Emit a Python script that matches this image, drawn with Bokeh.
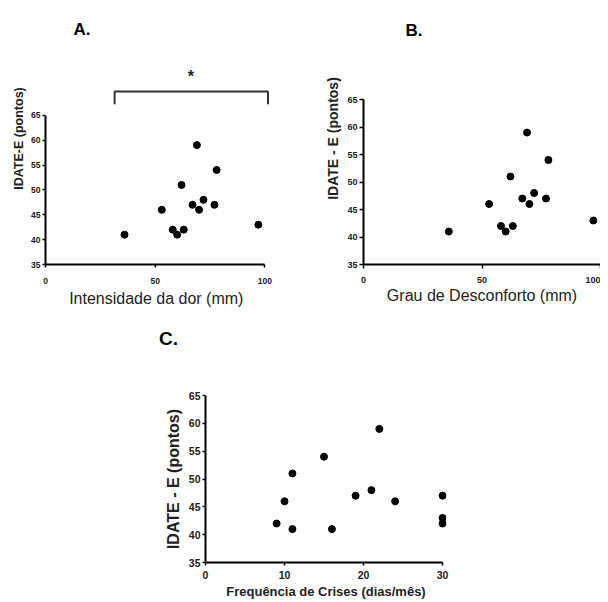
from bokeh.plotting import figure
from bokeh.models import FixedTicker, Label, Spacer, Range1d
from bokeh.layouts import column, row
from bokeh.embed import file_html
from bokeh.resources import INLINE

# ---- data ----
intensidade_dor = [36, 53, 58, 60, 63, 62, 67, 69, 70, 72, 77, 78, 97]
idate_a = [41, 46, 42, 41, 42, 51, 47, 59, 46, 48, 47, 54, 43]

grau_desconforto = [36, 53, 58, 60, 63, 62, 67, 69, 70, 72, 77, 78, 97]
idate_b = [41, 46, 42, 41, 42, 51, 47, 59, 46, 48, 47, 54, 43]

freq_crises = [9, 10, 11, 11, 15, 16, 19, 21, 22, 24, 30, 30, 30]
idate_c = [42, 46, 41, 51, 54, 41, 47, 48, 59, 46, 47, 43, 42]

y_ticks = [35, 40, 45, 50, 55, 60, 65]
x_ticks_ab = [0, 50, 100]
x_ticks_c = [0, 10, 20, 30]

FONT = "Liberation Sans"


def style(p, xticks, xbounds, tick_size, xlabel, xlabel_size, xlabel_style,
          ylabel, ylabel_size, tick_out, lab_stand, axlab_stand_x, axlab_stand_y):
    p.outline_line_color = None
    p.xgrid.grid_line_color = None
    p.ygrid.grid_line_color = None
    p.background_fill_color = "white"
    p.border_fill_color = "white"
    p.xaxis.ticker = FixedTicker(ticks=xticks)
    p.yaxis.ticker = FixedTicker(ticks=y_ticks)
    p.xaxis.bounds = xbounds
    p.yaxis.bounds = (35, 65)
    for ax in (p.xaxis, p.yaxis):
        ax.axis_line_color = "black"
        ax.axis_line_width = 2
        ax.major_tick_line_color = "black"
        ax.major_tick_line_width = 1.5
        ax.major_tick_out = tick_out
        ax.major_tick_in = 0
        ax.minor_tick_line_color = None
        ax.major_label_text_font = FONT
        ax.major_label_text_font_style = "bold"
        ax.major_label_text_font_size = tick_size
        ax.major_label_text_color = "#222222"
        ax.axis_label_text_font = FONT
        ax.axis_label_text_color = "#222222"
    p.xaxis.major_label_standoff = lab_stand
    p.yaxis.major_label_standoff = 2
    p.xaxis.axis_label = xlabel
    p.xaxis.axis_label_text_font_size = xlabel_size
    p.xaxis.axis_label_text_font_style = xlabel_style
    p.xaxis.axis_label_standoff = axlab_stand_x
    p.yaxis.axis_label = ylabel
    p.yaxis.axis_label_text_font_size = ylabel_size
    p.yaxis.axis_label_text_font_style = "bold"
    p.yaxis.axis_label_standoff = axlab_stand_y


# ---- Panel A ----
pA = figure(width=308, height=328, x_range=Range1d(0, 103), y_range=Range1d(35, 85.66),
            output_backend="svg", toolbar_location=None,
            min_border_left=45, min_border_right=37, min_border_top=12, min_border_bottom=61)
style(pA, x_ticks_ab, (0, 100), "8.5px", "Intensidade da dor  (mm)", "16px", "normal",
      "IDATE-E (pontos)", "12.5px", 3, 10, 3, 2)
pA.scatter(intensidade_dor, idate_a, size=7, color="black")
pA.line([31.5, 31.5, 101.4, 101.4], [67.2, 69.8, 69.8, 67.2], line_color="#333333", line_width=2)
pA.add_layout(Label(x=66.2, y=72.7, text="*", text_font=FONT, text_font_size="16px",
                    text_font_style="bold", text_align="center", text_baseline="alphabetic",
                    text_color="#222222"))
pA.add_layout(Label(x=12.8, y=82.3, text="A.", text_font=FONT, text_font_size="17px",
                    text_font_style="bold", text_align="left", text_baseline="middle",
                    text_color="black"))

# ---- Panel B ----
pB = figure(width=292, height=328, x_range=Range1d(0, 100), y_range=Range1d(35, 80.82),
            output_backend="svg", toolbar_location=None,
            min_border_left=55, min_border_right=0, min_border_top=12, min_border_bottom=64)
style(pB, x_ticks_ab, (0, 100), "9px", "Grau de Desconforto (mm)", "16px", "normal",
      "IDATE - E (pontos)", "14px", 4, 8, 1, 3)
pB.scatter(grau_desconforto, idate_b, size=7, color="black")
pB.add_layout(Label(x=17.7, y=77.5, text="B.", text_font=FONT, text_font_size="17px",
                    text_font_style="bold", text_align="left", text_baseline="middle",
                    text_color="black"))

# ---- strip holding the "C." panel letter ----
strip = figure(width=600, height=30, x_range=Range1d(0, 600), y_range=Range1d(0, 30),
               output_backend="svg", toolbar_location=None, x_axis_type=None, y_axis_type=None,
               min_border=0)
strip.outline_line_color = None
strip.xgrid.grid_line_color = None
strip.ygrid.grid_line_color = None
strip.add_layout(Label(x=168, y=20, text="C.", text_font=FONT, text_font_size="19px",
                       text_font_style="bold", text_align="center", text_baseline="middle",
                       text_color="black"))

# ---- Panel C ----
pC = figure(width=400, height=244, x_range=Range1d(0, 30.5), y_range=Range1d(35, 65),
            output_backend="svg", toolbar_location=None,
            min_border_left=97, min_border_right=62, min_border_top=37, min_border_bottom=40)
style(pC, x_ticks_c, (0, 30), "10.5px", "Frequência de Crises (dias/mês)", "13px", "bold",
      "IDATE - E (pontos)", "16px", 3, 5, 2, 4)
pC.scatter(freq_crises, idate_c, size=7, color="black")

layout = column(row(pA, pB), strip, row(Spacer(width=108, height=244), pC))

open("out.html", "w").write(file_html(layout, INLINE))
